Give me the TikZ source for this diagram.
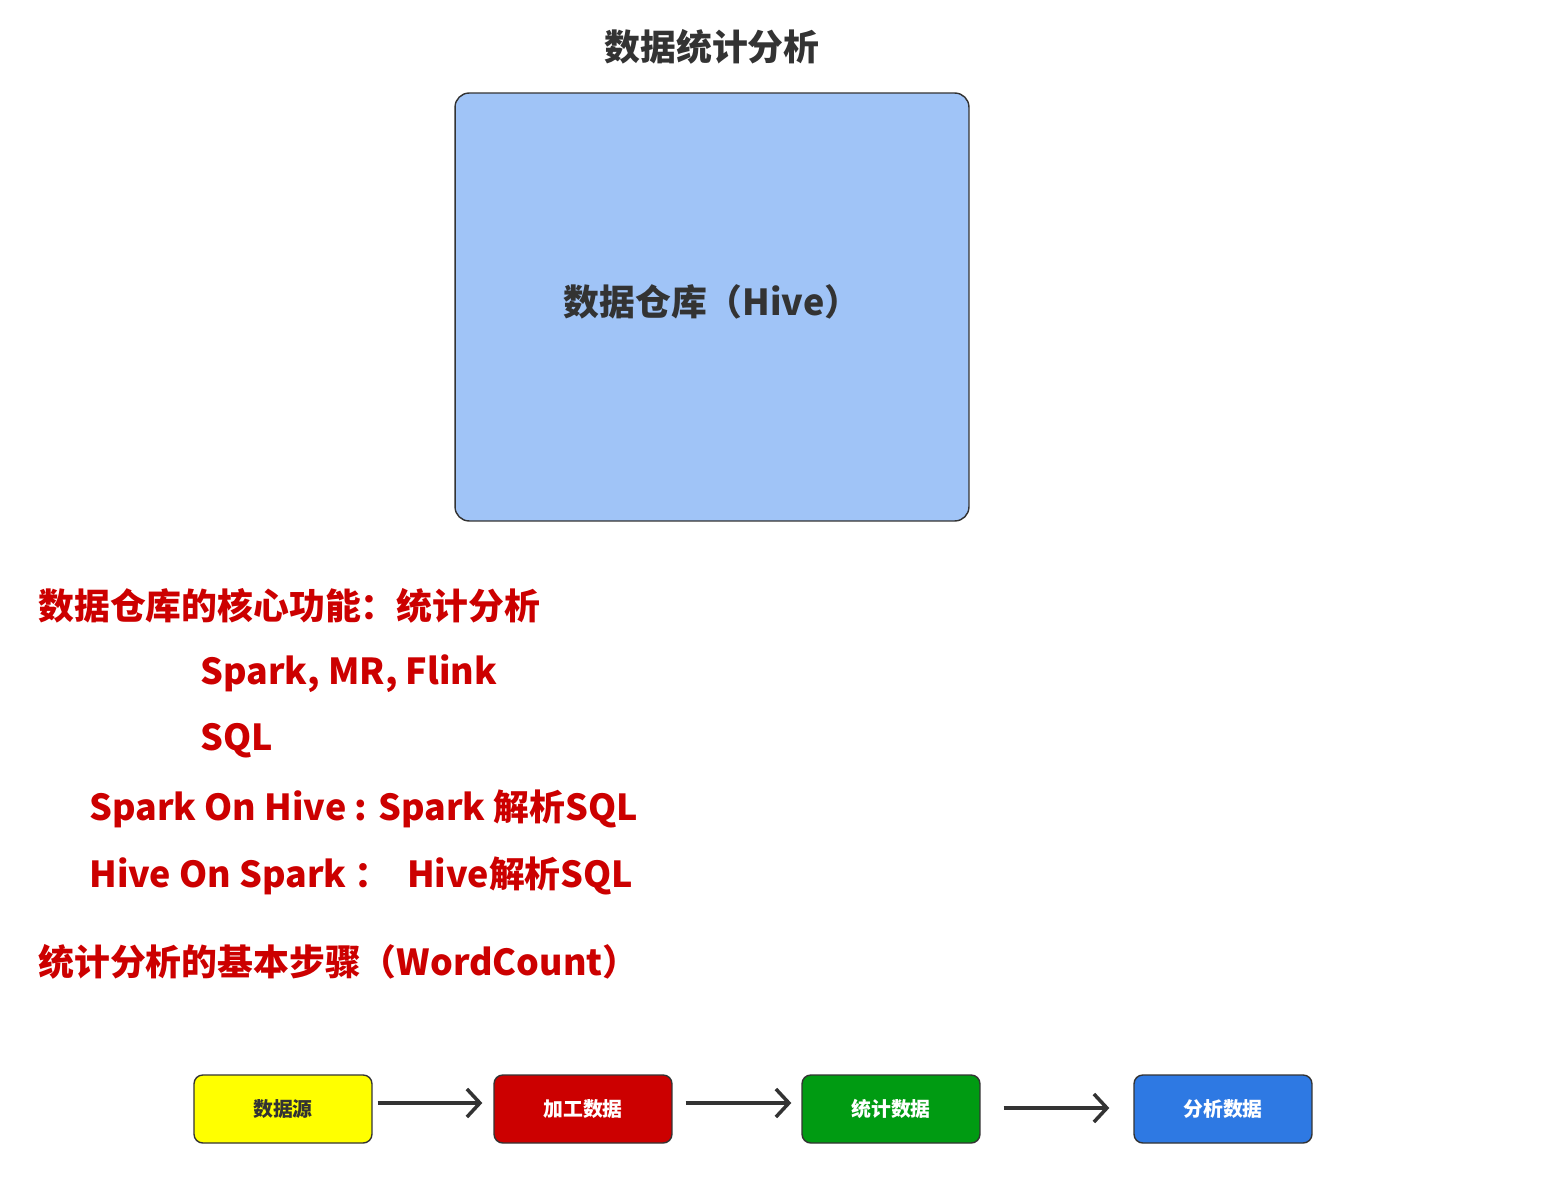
\documentclass[tikz,border=0pt]{standalone}
\usepackage{fontspec}
\setmainfont{Noto Sans CJK SC}
\usetikzlibrary{arrows.meta,positioning}
\definecolor{Ink}{HTML}{333333}
\definecolor{Note}{HTML}{CC0000}
\definecolor{Sky}{HTML}{A0C4F7}
\definecolor{Sun}{HTML}{FFFF00}
\definecolor{Brick}{HTML}{CC0000}
\definecolor{Leaf}{HTML}{009B12}
\definecolor{Sea}{HTML}{2E79E3}
\tikzset{
 heading/.style={text=Ink,font=\fontsize{20.4pt}{24pt}\selectfont\bfseries,inner sep=0pt},
 note/.style={text=Note,font=\fontsize{20.4pt}{24pt}\selectfont\bfseries,inner sep=0pt,anchor=west},
 store/.style={draw=Ink,line width=0.8pt,fill=Sky,rounded corners=8pt,minimum width=10.28cm,minimum height=8.56cm,text=Ink,font=\fontsize{20.4pt}{24pt}\selectfont\bfseries},
 stage/.style={draw=Ink,line width=0.8pt,rounded corners=5pt,minimum width=3.56cm,minimum height=1.36cm,text=white,font=\fontsize{11.3pt}{13pt}\selectfont\bfseries},
 flow/.style={-{Straight Barb[length=2.6mm,width=5.6mm,line width=2pt]},line width=2pt,draw=Ink}
}
\begin{document}
\begin{tikzpicture}[x=0.02cm,y=-0.02cm]
\useasboundingbox (0,0) rectangle (1556,1183);
\node[heading] (title) at (712,47) {数据统计分析};
\node[store] (hive) at (712,307) {\raisebox{0.1cm}[\height][\depth]{数据仓库（Hive）}};
% notes on the left
\node[note] (core) at (38,606) {数据仓库的核心功能：统计分析};
\node[note] (engines) at (200,674) {Spark, MR, Flink};
\node[note] (sql) at (200,741) {SQL};
\node[note] (soh) at (89,809) {Spark On Hive : Spark 解析SQL};
\node[note] (hos) at (89,876) {Hive On Spark ：\ \ Hive解析SQL};
\node[note] (steps) at (38,962) {统计分析的基本步骤（WordCount）};
% pipeline
\node[stage,fill=Sun,text=Ink] (src) at (283,1109) {数据源};
\node[stage,fill=Brick] (prep) at (583,1109) {加工数据};
\node[stage,fill=Leaf] (count) at (891,1109) {统计数据};
\node[stage,fill=Sea] (ana) at (1223,1109) {分析数据};
\draw[flow,shorten <=0.1cm,shorten >=0.22cm] ([yshift=0.12cm]src.east) -- ([yshift=0.12cm]prep.west);
\draw[flow,shorten <=0.26cm,shorten >=0.2cm] ([yshift=0.12cm]prep.east) -- ([yshift=0.12cm]count.west);
\draw[flow,shorten <=0.46cm,shorten >=0.48cm] ([yshift=0.02cm]count.east) -- ([yshift=0.02cm]ana.west);
\end{tikzpicture}
\end{document}
